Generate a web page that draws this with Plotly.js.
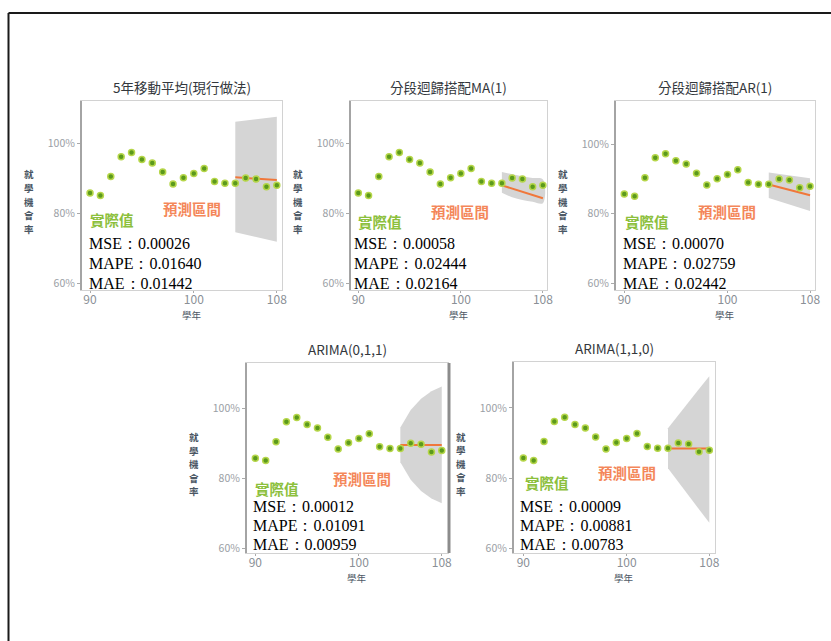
<!DOCTYPE html>
<html>
<head>
<meta charset="utf-8">
<script src="https://cdn.plot.ly/plotly-3.0.1.min.js"></script>
<style>
  html, body { margin: 0; padding: 0; background: #fff; }
  #chart { width: 831px; height: 641px; }
</style>
</head>
<body>
<div id="chart"></div>
<script>
// Observed school-enrolment opportunity rate by academic year
const years = [90, 91, 92, 93, 94, 95, 96, 97, 98, 99, 100, 101, 102, 103, 104, 105, 106, 107, 108];
const rate = [0.857, 0.850, 0.904, 0.961, 0.973, 0.953, 0.943, 0.917, 0.883, 0.901, 0.913, 0.927, 0.890, 0.885, 0.885, 0.900, 0.897, 0.875, 0.879];

// Forecast horizon
const fcYears = [104, 105, 106, 107, 108];

// Model titles
const modelTitles = ['5年移動平均(現行做法)', '分段迴歸搭配MA(1)', '分段迴歸搭配AR(1)', 'ARIMA(0,1,1)', 'ARIMA(1,1,0)'];

// Forecasts and prediction intervals per model
const meanMA5 = [0.902, 0.900, 0.898, 0.896, 0.894];
const upperMA5 = [1.061, 1.064, 1.067, 1.071, 1.075];
const lowerMA5 = [0.745, 0.738, 0.731, 0.725, 0.718];

const meanSegMA = [0.879, 0.870, 0.860, 0.851, 0.842];
const upperSegMA = [0.917, 0.911, 0.905, 0.900, 0.896];
const lowerSegMA = [0.858, 0.845, 0.837, 0.832, 0.828];

const meanSegAR = [0.884, 0.876, 0.868, 0.860, 0.853];
const upperSegAR = [0.919, 0.915, 0.910, 0.906, 0.902];
const lowerSegAR = [0.845, 0.835, 0.826, 0.817, 0.808];

const meanArima011 = [0.895, 0.895, 0.895, 0.895, 0.895];
const upperArima011 = [0.945, 0.995, 1.027, 1.048, 1.062];
const lowerArima011 = [0.845, 0.795, 0.763, 0.742, 0.728];

const meanArima110 = [0.884, 0.884, 0.884, 0.884, 0.884];
const upperArima110 = [0.942, 0.980, 1.017, 1.054, 1.090];
const lowerArima110 = [0.828, 0.789, 0.750, 0.711, 0.672];

// Error metrics per model
const mseText = ['0.00026', '0.00058', '0.00070', '0.00012', '0.00009'];
const mapeText = ['0.01640', '0.02444', '0.02759', '0.01091', '0.00881'];
const maeText = ['0.01442', '0.02164', '0.02442', '0.00959', '0.00783'];

// Axis tick labels
const xTicks = [90, 100, 108];
const yTicks = [0.6, 0.8, 1.0];
const yTickText = ['60%', '80%', '100%'];
const yTitleChars = ['就', '學', '機', '會', '率'];

const means = [meanMA5, meanSegMA, meanSegAR, meanArima011, meanArima110];
const uppers = [upperMA5, upperSegMA, upperSegAR, upperArima011, upperArima110];
const lowers = [lowerMA5, lowerSegMA, lowerSegAR, lowerArima011, lowerArima110];

// Panel geometry in pixels (left, right, top, bottom) and per-panel ranges
const W = 831, H = 641;
const panels = [
  { l: 81, r: 282, t: 101, b: 290, yr: [0.58, 1.12], xr: [89.13, 108.5] },
  { l: 350, r: 547, t: 101, b: 290, yr: [0.58, 1.12], xr: [89.19, 108.4] },
  { l: 615, r: 815, t: 101, b: 290, yr: [0.58, 1.125], xr: [89.1, 108.48] },
  { l: 246, r: 448, t: 363, b: 553, yr: [0.586, 1.129], xr: [89.1, 108.6] },
  { l: 513, r: 715, t: 362, b: 553, yr: [0.586, 1.131], xr: [89.0, 108.55] }
];

const px = x => x / W;
const py = y => 1 - y / H;

const CJK = '"Noto Sans CJK TC", "Noto Sans CJK SC", sans-serif';
const SERIF = '"Liberation Serif", "Times New Roman", serif';

const traces = [];
const layout = {
  width: W, height: H,
  margin: { l: 0, r: 0, t: 0, b: 0 },
  paper_bgcolor: '#ffffff',
  plot_bgcolor: '#ffffff',
  showlegend: false,
  annotations: [],
  shapes: []
};

panels.forEach((p, i) => {
  const n = i + 1;
  const xa = n === 1 ? 'x' : 'x' + n;
  const ya = n === 1 ? 'y' : 'y' + n;
  const xKey = n === 1 ? 'xaxis' : 'xaxis' + n;
  const yKey = n === 1 ? 'yaxis' : 'yaxis' + n;

  layout[xKey] = {
    domain: [px(p.l), px(p.r)],
    anchor: ya,
    range: p.xr,
    tickvals: xTicks,
    ticks: 'outside', ticklen: 2, tickcolor: '#aaaaaa',
    ticklabelstandoff: -3,
    tickfont: { family: CJK, size: 12, color: '#8a8f96' },
    showgrid: false, zeroline: false,
    showline: true, mirror: true, linecolor: '#d2d2d2', linewidth: 1
  };
  layout[yKey] = {
    domain: [py(p.b), py(p.t)],
    anchor: xa,
    range: p.yr,
    tickvals: yTicks,
    ticktext: yTickText,
    ticks: 'outside', ticklen: 3, tickcolor: '#aaaaaa',
    tickfont: { family: CJK, size: 10.5, color: '#9a9ea4' },
    showgrid: false, zeroline: false,
    showline: true, mirror: true, linecolor: '#d2d2d2', linewidth: 1
  };

  // prediction interval band
  traces.push({
    type: 'scatter', mode: 'lines', xaxis: xa, yaxis: ya,
    x: fcYears.concat(fcYears.slice().reverse()),
    y: uppers[i].concat(lowers[i].slice().reverse()),
    fill: 'toself', fillcolor: '#d5d5d5',
    line: { width: 0, shape: i === 1 ? 'spline' : 'linear' },
    hoverinfo: 'skip'
  });
  // point forecast
  traces.push({
    type: 'scatter', mode: 'lines', xaxis: xa, yaxis: ya,
    x: fcYears, y: means[i],
    line: { color: '#f0773a', width: 2 }
  });
  // observed values
  traces.push({
    type: 'scatter', mode: 'markers', xaxis: xa, yaxis: ya,
    x: years, y: rate,
    marker: { size: 6, color: '#5b9a1c', line: { color: '#b6d64a', width: 1.5 } }
  });

  // darker left spine
  layout.shapes.push({
    type: 'line', xref: 'paper', yref: 'paper',
    x0: px(p.l), x1: px(p.l), y0: py(p.b), y1: py(p.t),
    line: { color: '#a4a4a4', width: 2 }
  });

  const cx = (p.l + p.r) / 2;
  // panel title
  layout.annotations.push({
    xref: 'paper', yref: 'paper', x: px(cx), y: py(p.t - 14),
    xanchor: 'center', yanchor: 'middle', showarrow: false,
    text: modelTitles[i],
    font: { family: CJK, size: 13.5, color: '#33373c' }
  });
  // x-axis title
  layout.annotations.push({
    xref: 'paper', yref: 'paper', x: px(cx + 10), y: py(p.b + 25),
    xanchor: 'center', yanchor: 'middle', showarrow: false,
    text: '學年',
    font: { family: CJK, size: 9.5, color: '#4e5966' }
  });
  // y-axis title, one character per row
  const midY = (p.t + p.b) / 2 + 6;
  yTitleChars.forEach((ch, k) => {
    layout.annotations.push({
      xref: 'paper', yref: 'paper', x: px(p.l - 52), y: py(midY + (k - 2) * 13.5),
      xanchor: 'center', yanchor: 'middle', showarrow: false,
      borderpad: 0,
      text: '<b>' + ch + '</b>',
      font: { family: CJK, size: 9.5, color: '#4a5663' }
    });
  });

  const top = i < 3;
  const greenX = [112, 380, 647, 277, 547][i];
  const greenY = [220, 221, 221, 488, 482][i];
  const orangeX = [192, 460, 727, 362, 627][i];
  const orangeY = [209, 211, 211, 479, 472][i];
  layout.annotations.push({
    xref: 'paper', yref: 'paper', x: px(greenX), y: py(greenY),
    xanchor: 'center', yanchor: 'middle', showarrow: false,
    borderpad: 0,
    text: '<b>實際值</b>',
    font: { family: CJK, size: 14.5, color: '#8cc03c' }
  });
  layout.annotations.push({
    xref: 'paper', yref: 'paper', x: px(orangeX), y: py(orangeY),
    xanchor: 'center', yanchor: 'middle', showarrow: false,
    borderpad: 0,
    text: '<b>預測區間</b>',
    font: { family: CJK, size: 14.5, color: '#f4875a' }
  });

  // metrics block
  const textLeft = [88, 353, 622, 252, 519][i];
  const lineYs = top ? [243, 263, 283] : [506, 525, 544];
  const lines = ['MSE：' + mseText[i], 'MAPE：' + mapeText[i], 'MAE：' + maeText[i]];
  lines.forEach((t, k) => {
    layout.annotations.push({
      xref: 'paper', yref: 'paper', x: px(textLeft), y: py(lineYs[k]),
      xanchor: 'left', yanchor: 'middle', showarrow: false,
      borderpad: 0,
      text: t,
      font: { family: SERIF, size: 16, color: '#000000' }
    });
  });
});

// darker right edge on the ARIMA(0,1,1) panel
layout.shapes.push({
  type: 'line', xref: 'paper', yref: 'paper',
  x0: px(449), x1: px(449), y0: py(553), y1: py(363),
  line: { color: '#8c8c8c', width: 3 }
});

// outer frame edges
layout.shapes.push({
  type: 'line', xref: 'paper', yref: 'paper',
  x0: px(8.5), x1: 1, y0: py(13), y1: py(13),
  line: { color: '#1a1a1a', width: 2 }
});
layout.shapes.push({
  type: 'line', xref: 'paper', yref: 'paper',
  x0: px(8.5), x1: px(8.5), y0: py(13), y1: 0,
  line: { color: '#1a1a1a', width: 2 }
});

Plotly.newPlot('chart', traces, layout, { staticPlot: true, displayModeBar: false });
</script>
</body>
</html>
